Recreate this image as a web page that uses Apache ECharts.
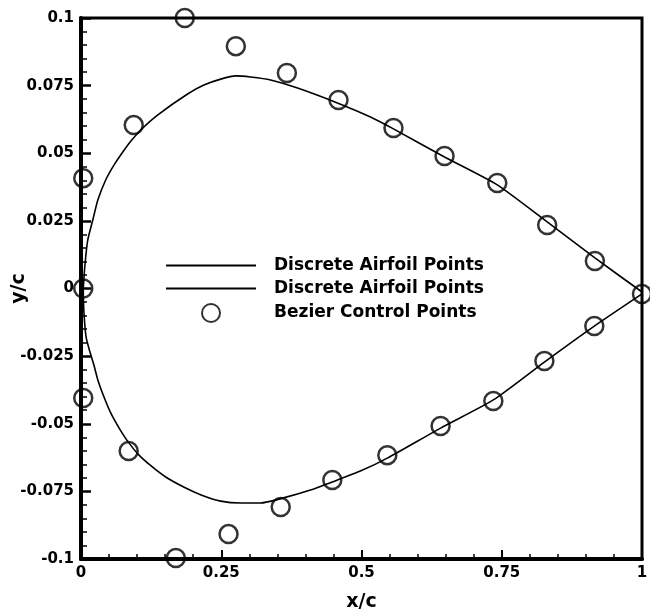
<!DOCTYPE html>
<html><head><meta charset="utf-8">
<script src="https://cdn.jsdelivr.net/npm/echarts@6/dist/echarts.min.js"></script>
<style>html,body{margin:0;padding:0;background:#fff}#c{width:650px;height:613px}</style>
</head><body><div id="c"></div>
<script>
// Tick labels
var xTicks = [0, 0.25, 0.5, 0.75, 1];
var yTicks = [-0.1, -0.075, -0.05, -0.025, 0, 0.025, 0.05, 0.075, 0.1];

// Discrete airfoil points, upper surface [x/c, y/c]
var upperCurve = [
  [0.004,0.000],[0.007,0.0087],[0.012,0.0179],[0.021,0.0253],[0.030,0.0327],
  [0.044,0.0401],[0.059,0.0457],[0.077,0.0512],[0.089,0.0545],[0.107,0.0587],
  [0.137,0.0642],[0.190,0.0719],[0.219,0.0752],[0.249,0.0774],[0.276,0.0786],
  [0.302,0.0782],[0.338,0.0771],[0.386,0.0741],[0.457,0.0686],[0.516,0.0634],
  [0.557,0.0590],[0.648,0.0486],[0.742,0.0383],[0.831,0.0246],[0.916,0.0113],
  [1.000,-0.0013]
];
// Discrete airfoil points, lower surface
var lowerCurve = [
  [0.004,0.000],[0.005,-0.0079],[0.009,-0.0179],[0.016,-0.0235],[0.023,-0.0283],
  [0.030,-0.0338],[0.041,-0.0401],[0.053,-0.0460],[0.068,-0.0516],[0.084,-0.0567],
  [0.103,-0.0615],[0.125,-0.0656],[0.151,-0.0697],[0.183,-0.0734],[0.214,-0.0763],
  [0.249,-0.0786],[0.285,-0.0793],[0.320,-0.0793],[0.361,-0.0774],[0.409,-0.0745],
  [0.448,-0.0715],[0.498,-0.0675],[0.546,-0.0627],[0.641,-0.0516],[0.735,-0.0412],
  [0.826,-0.0272],[0.915,-0.0139],[1.000,-0.0020]
];
// Bezier control points
var controlUpper = [
  [0.004,0.000],[0.004,0.0408],[0.094,0.0604],[0.185,0.1000],[0.276,0.0896],
  [0.367,0.0797],[0.459,0.0697],[0.557,0.0593],[0.648,0.0490],[0.742,0.0390],
  [0.831,0.0235],[0.916,0.0102],[1.000,-0.0020]
];
var controlLower = [
  [0.004,-0.0405],[0.085,-0.0601],[0.169,-0.0996],[0.263,-0.0908],[0.356,-0.0808],
  [0.448,-0.0708],[0.546,-0.0616],[0.641,-0.0508],[0.735,-0.0416],[0.826,-0.0268],
  [0.915,-0.0139]
];
var legendNames = {
  upper: 'Discrete Airfoil Points',
  lower: 'Discrete Airfoil Points',
  ctrl: 'Bezier Control Points'
};

var font = '"DejaVu Sans", "Liberation Sans", Arial, sans-serif';
var chart = echarts.init(document.getElementById('c'), null, {renderer: 'canvas'});
chart.setOption({
  animation: false,
  backgroundColor: '#fff',
  grid: {left: 81, right: 8, top: 18, bottom: 54, outerBoundsMode: 'none', containLabel: false,
    show: true, borderColor: '#000', borderWidth: 3, backgroundColor: 'transparent'},
  legend: {
    orient: 'vertical', left: 165, top: 257, padding: 0,
    itemWidth: 90, itemHeight: 18, itemGap: 6,
    data: [
      {name: 'upper', itemStyle: {opacity: 0}},
      {name: 'lower', itemStyle: {opacity: 0}},
      {name: 'ctrl'}
    ],
    formatter: function (n) { return legendNames[n]; },
    textStyle: {fontFamily: font, fontWeight: 'bold', fontSize: 17, color: '#000', padding: [0, 0, 0, 13]}
  },
  xAxis: {
    type: 'value', min: 0, max: 1, interval: 0.25,
    name: 'x/c', nameLocation: 'middle', nameGap: 34,
    nameTextStyle: {fontFamily: font, fontWeight: 'bold', fontSize: 19, color: '#000'},
    axisLine: {onZero: false, lineStyle: {color: '#000', width: 4}},
    axisTick: {inside: true, length: 9, lineStyle: {color: '#000', width: 2}},
    minorTick: {show: true, splitNumber: 5, length: 5, lineStyle: {color: '#000', width: 1.5}},
    splitLine: {show: false},
    axisLabel: {fontFamily: font, fontWeight: 'bold', fontSize: 15, color: '#000', margin: 7,
      formatter: function (v) { return String(v); }}
  },
  yAxis: {
    type: 'value', min: -0.1, max: 0.1, interval: 0.025,
    name: 'y/c', nameLocation: 'middle', nameGap: 52, nameRotate: 90, nameMoveOverlap: false,
    nameTextStyle: {fontFamily: font, fontWeight: 'bold', fontSize: 19, color: '#000'},
    axisLine: {onZero: false, lineStyle: {color: '#000', width: 4}},
    axisTick: {inside: true, length: 10, lineStyle: {color: '#000', width: 2.5}},
    minorTick: {show: true, splitNumber: 5, length: 6, lineStyle: {color: '#000', width: 1.5}},
    splitLine: {show: false},
    axisLabel: {fontFamily: font, fontWeight: 'bold', fontSize: 15, color: '#000', margin: 7,
      formatter: function (v) { return String(Math.round(v * 1000) / 1000); }}
  },
  series: [
    {name: 'upper', type: 'line', data: upperCurve, symbol: 'none', smooth: 0.2,
      itemStyle: {color: '#000'}, lineStyle: {color: '#000', width: 1.6}},
    {name: 'lower', type: 'line', data: lowerCurve, symbol: 'none', smooth: 0.2,
      itemStyle: {color: '#000'}, lineStyle: {color: '#000', width: 1.6}},
    {name: 'ctrl', type: 'scatter', data: controlUpper.concat(controlLower), symbol: 'circle', symbolSize: 18,
      itemStyle: {color: 'rgba(255,255,255,0)', borderColor: '#000', borderWidth: 2.5}}
  ]
});
</script></body></html>
